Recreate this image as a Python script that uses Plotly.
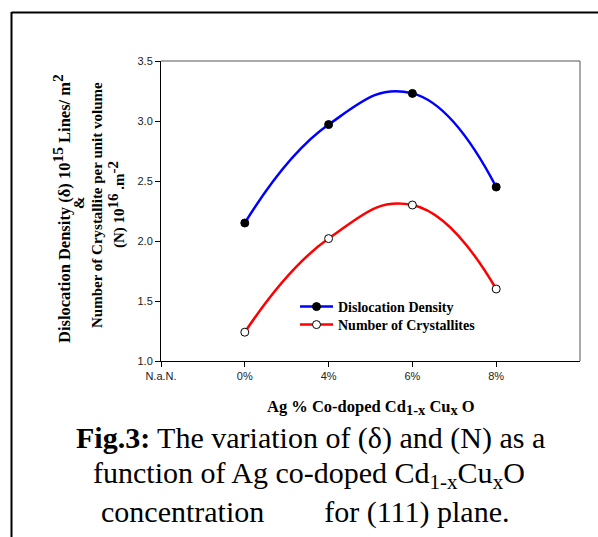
import plotly.graph_objects as go

tick_labels = ["N.a.N.", "0%", "4%", "6%", "8%"]
categories = ["0%", "4%", "6%", "8%"]
dislocation = [2.15, 2.97, 3.23, 2.45]
crystallites = [1.24, 2.02, 2.30, 1.60]

W, H = 598, 537
L, R, T, B = 161, 18, 61, 176
pw, ph = W - L - R, H - T - B

def px(x):
    return (x - L) / pw

def py(y):
    return (H - B - y) / ph

fig = go.Figure()
fig.add_trace(go.Scatter(
    x=categories, y=dislocation, name="<b>Dislocation Density</b>",
    mode="lines+markers", line=dict(color="#0000ff", width=2.5, shape="spline", smoothing=1.3),
    marker=dict(symbol="circle", size=8, color="black", line=dict(color="black", width=1)),
    cliponaxis=False, legend="legend",
))
fig.add_trace(go.Scatter(
    x=categories, y=crystallites, name="<b>Number of Crystallites</b>",
    mode="lines+markers", line=dict(color="#ff0000", width=2.5, shape="spline", smoothing=1.3),
    marker=dict(symbol="circle", size=8, color="white", line=dict(color="black", width=1)),
    cliponaxis=False, legend="legend2",
))

serif = "Liberation Serif, Times New Roman, serif"
sans = "Liberation Sans, Arial, sans-serif"

legend_common = dict(xanchor="left", yanchor="middle", bgcolor="rgba(0,0,0,0)",
                     font=dict(family=serif, size=14, color="black"),
                     itemwidth=33, borderwidth=0)

fig.update_layout(
    width=W, height=H,
    margin=dict(l=L, r=R, t=T, b=B, pad=0),
    paper_bgcolor="white", plot_bgcolor="white",
    showlegend=True,
    legend=dict(x=px(295), y=py(307), **legend_common),
    legend2=dict(x=px(295), y=py(325), **legend_common),
    xaxis=dict(type="category", categoryorder="array", categoryarray=tick_labels,
               tickvals=tick_labels, ticktext=tick_labels,
               range=[0, 5], showgrid=False, zeroline=False,
               showline=True, linecolor="black", linewidth=1,
               ticks="outside", ticklen=5, tickcolor="black",
               tickfont=dict(family=sans, size=11, color="#222")),
    yaxis=dict(range=[1.0, 3.5], tickvals=[1.0, 1.5, 2.0, 2.5, 3.0, 3.5],
               tickformat=".1f", showgrid=False, zeroline=False,
               showline=True, linecolor="black", linewidth=1,
               ticks="outside", ticklen=5, tickcolor="black",
               tickfont=dict(family=sans, size=11, color="#222")),
)

# plot frame top/right
fig.add_shape(type="line", xref="paper", yref="paper", x0=0, x1=1, y0=1, y1=1,
              line=dict(color="#555", width=1))
fig.add_shape(type="line", xref="paper", yref="paper", x0=1, x1=1, y0=0, y1=1,
              line=dict(color="#555", width=1))

# outer border (left and top)
fig.add_shape(type="line", xref="paper", yref="paper", x0=px(11.5), x1=px(11.5), y0=py(12), y1=py(540),
              line=dict(color="black", width=2))
fig.add_shape(type="line", xref="paper", yref="paper", x0=px(11.5), x1=px(605), y0=py(12.5), y1=py(12.5),
              line=dict(color="black", width=2))

def big(s, size):
    return '<span style="font-size:%spx">%s</span>' % (size, s)

# y axis title lines
ylines = [
    (61, 209, 16.5, "<b>Dislocation Density (δ) 10<sup>" + big("15", 15.5) + "</sup> Lines/ m<sup>" + big("2", 15.5) + "</sup></b>"),
    (79, 203, 15, "<b>&amp;</b>"),
    (97, 205, 15, "<b>Number of Crystallite per unit volume</b>"),
    (116, 205, 15, "<b>(N) 10<sup>" + big("16", 15) + "</sup> .m<sup>" + big("-2", 15) + "</sup></b>"),
]
for xc, yc, fs, txt in ylines:
    fig.add_annotation(xref="paper", yref="paper", x=px(xc), y=py(yc),
                       text=txt, textangle=-90, showarrow=False,
                       xanchor="center", yanchor="middle",
                       font=dict(family=serif, size=fs, color="black"))

# x axis title
fig.add_annotation(xref="paper", yref="paper", x=0.5, y=py(407),
                   text="<b>Ag % Co-doped Cd<sub>" + big("1-x", 14.5) + "</sub> Cu<sub>" + big("x", 14.5) + "</sub> O</b>",
                   showarrow=False, xanchor="center", yanchor="middle",
                   font=dict(family=serif, size=16.5, color="black"))

# caption
caption = [
    (438, 310, "<b>Fig.3:</b> The variation of (δ) and (N) as a"),
    (475, 309, "function of Ag co-doped Cd<sub>1-x</sub>Cu<sub>x</sub>O"),
    (512, 305, "concentration\u00a0\u00a0\u00a0\u00a0\u00a0\u00a0\u00a0 for (111) plane."),
]
for yc, xc, txt in caption:
    fig.add_annotation(xref="paper", yref="paper", x=px(xc), y=py(yc),
                       text=txt, showarrow=False, xanchor="center", yanchor="middle",
                       font=dict(family=serif, size=30, color="black"))

fig.write_html("out.html", config={"displayModeBar": False},
               post_script="document.body.style.margin='0';document.body.style.overflow='hidden';")
